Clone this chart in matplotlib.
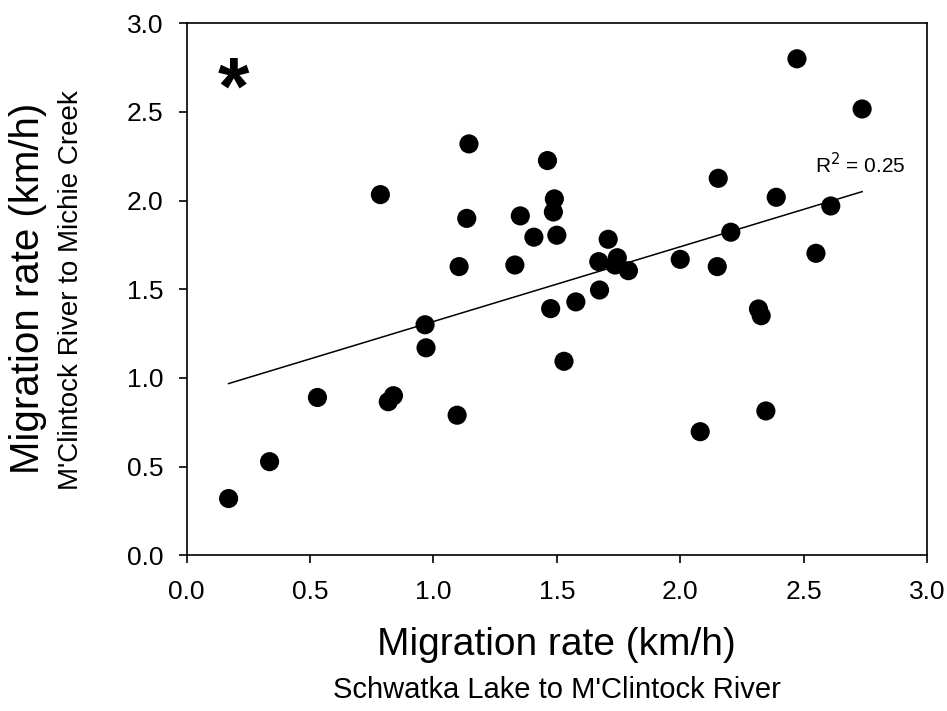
import numpy as np
import matplotlib

matplotlib.use("Agg")
import matplotlib.pyplot as plt

plt.rcParams["font.family"] = ["Liberation Sans", "DejaVu Sans"]

# Schwatka Lake -> M'Clintock River (x) vs M'Clintock River -> Michie Creek (y), km/h
rate_upper = [0.17, 0.336, 0.53, 0.817, 0.838, 0.785, 0.966, 0.97, 1.096, 1.104,
              1.135, 1.144, 1.33, 1.352, 1.407, 1.462, 1.49, 1.486, 1.50, 1.475,
              1.529, 1.577, 1.673, 1.67, 1.708, 1.736, 1.745, 1.79, 2.0, 2.081,
              2.15, 2.154, 2.205, 2.317, 2.328, 2.347, 2.389, 2.473, 2.55, 2.61,
              2.737]
rate_lower = [0.32, 0.528, 0.89, 0.866, 0.90, 2.034, 1.30, 1.17, 0.79, 1.628,
              1.90, 2.32, 1.637, 1.914, 1.794, 2.226, 2.01, 1.936, 1.805, 1.391,
              1.094, 1.429, 1.496, 1.656, 1.782, 1.637, 1.678, 1.605, 1.669, 0.697,
              1.628, 2.126, 1.822, 1.389, 1.351, 0.814, 2.019, 2.80, 1.703, 1.97,
              2.517]
r_squared = 0.25
ticks = [0.0, 0.5, 1.0, 1.5, 2.0, 2.5, 3.0]

x = np.array(rate_upper)
y = np.array(rate_lower)
slope, intercept = np.polyfit(x, y, 1)
fit_x = np.array([x.min(), x.max()])

fig = plt.figure(figsize=(9.47, 7.11), dpi=100)
ax = fig.add_axes([0.1971, 0.2190, 0.7818, 0.7482])

ax.plot(fit_x, slope * fit_x + intercept, color="black", lw=1.1, zorder=2)
ax.scatter(x, y, s=190, color="black", edgecolors="none", zorder=3)

ax.set_xlim(0, 3.0)
ax.set_ylim(0, 3.0)
ax.set_xticks(ticks)
ax.set_yticks(ticks)
ax.set_xticklabels([f"{t:.1f}" for t in ticks])
ax.set_yticklabels([f"{t:.1f}" for t in ticks])
ax.tick_params(direction="out", length=6, width=1.2, labelsize=19)
ax.tick_params(axis="x", pad=12)
ax.tick_params(axis="y", pad=11)
for side in ax.spines.values():
    side.set_linewidth(1.2)

ax.text(2.547, 2.156, f"R$^2$ = {r_squared:.2f}", fontsize=15, ha="left", va="baseline")
ax.text(0.19, 2.49, "*", fontsize=58, fontweight="bold", ha="center", va="baseline")

fig.text(0.588, 0.093, "Migration rate (km/h)", fontsize=28, ha="center", va="center")
fig.text(0.588, 0.030, "Schwatka Lake to M'Clintock River", fontsize=21,
         ha="center", va="center")
fig.text(0.030, 0.594, "Migration rate (km/h)", fontsize=29, rotation=90,
         ha="center", va="center")
fig.text(0.075, 0.592, "M'Clintock River to Michie Creek", fontsize=20, rotation=90,
         ha="center", va="center")

fig.savefig("out.png", dpi=100)
